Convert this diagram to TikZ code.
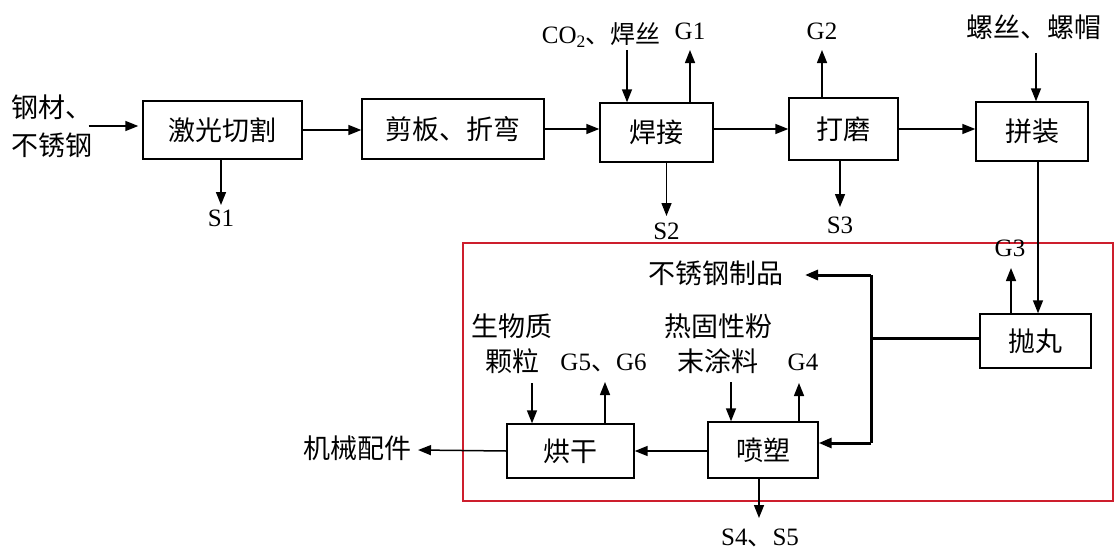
\documentclass[tikz,border=0pt]{standalone}
\usepackage{fontspec}
\setmainfont{Liberation Serif}
\newfontfamily\cj{Noto Sans CJK SC}
\usetikzlibrary{arrows.meta}
\definecolor{redbox}{RGB}{205,30,45}
\tikzset{
  box/.style={draw, line width=1.4pt, minimum width=#1, inner sep=0pt},
  lbl/.style={inner sep=0pt, font=\fontsize{25}{30}\selectfont},
  clbl/.style={inner sep=0pt, font=\cj\fontsize{27}{36}\selectfont},
  arr/.style={line width=1.5pt, -{Triangle[length=13pt,width=10pt]}},
  thk/.style={line width=3pt},
  thkarr/.style={line width=3pt, -{Triangle[length=13pt,width=10pt]}},
}
\begin{document}
\begin{tikzpicture}[x=1pt,y=-1pt]
\useasboundingbox (0,0) rectangle (1115,551);
% red frame
\draw[redbox, line width=2.8pt] (463,243) rectangle (1113,501);
% boxes
\node[box=159pt, minimum height=58pt, clbl] (laser) at (222.5,130) {激光切割};
\node[box=182pt, minimum height=60pt, clbl] (shear) at (453,129) {剪板、折弯};
\node[box=113pt, minimum height=59pt, clbl] (weld) at (656.5,132.5) {焊接};
\node[box=109pt, minimum height=62pt, clbl] (polish) at (843.5,129) {打磨};
\node[box=112pt, minimum height=59pt, clbl] (assem) at (1032,131.5) {拼装};
\node[box=111pt, minimum height=54pt, clbl] (shot) at (1035.5,341) {抛丸};
\node[box=110pt, minimum height=56pt, clbl] (spray) at (763,450) {喷塑};
\node[box=127pt, minimum height=54pt, clbl] (dry) at (570.5,451) {烘干};
% labels
\node[clbl, align=left, font=\cj\fontsize{27}{38}\selectfont] (steel) at (52,126) {钢材、\\不锈钢};
\node[lbl, anchor=east] (co2) at (661,35) {CO\textsubscript{2}{\cj 、焊丝}};
\node[lbl] (g1) at (690,31) {G1};
\node[lbl] (g2) at (822,31) {G2};
\node[clbl] (screw) at (1034,27.5) {螺丝、螺帽};
\node[lbl] (s1) at (221,218) {S1};
\node[lbl] (s2) at (666.5,231) {S2};
\node[lbl] (s3) at (840,225) {S3};
\node[clbl] (prod) at (716,273) {不锈钢制品};
\node[lbl] (g3) at (1010,248) {G3};
\node[clbl, align=center, font=\cj\fontsize{27}{35}\selectfont] (bio) at (512,344) {生物质\\颗粒};
\node[lbl] (g56) at (603.5,363) {G5{\cj 、}G6};
\node[clbl, align=center, font=\cj\fontsize{27}{35}\selectfont] (powder) at (718,344) {热固性粉\\末涂料};
\node[lbl] (g4) at (803,362) {G4};
\node[lbl] (s45) at (760,538) {S4{\cj 、}S5};
\node[clbl] (mech) at (357.5,448) {机械配件};
% arrow end coordinates
\coordinate (co2tip) at (627,50);
\coordinate (g1tip) at (690,50);
\coordinate (g2tip) at (822,50);
\coordinate (screwtip) at (1036,53);
\coordinate (s1tip) at (221,205);
\coordinate (s2tip) at (666.5,216);
\coordinate (s3tip) at (840,207);
\coordinate (g3tip) at (1011,268);
\coordinate (biotip) at (532,383);
\coordinate (g56tip) at (605,382);
\coordinate (powtip) at (731,382);
\coordinate (g4tip) at (799,383);
\coordinate (s45tip) at (759,518);
\coordinate (mechtip) at (418,450);
\coordinate (prodtip) at (805,275);
\coordinate (jt) at (871,275);
\coordinate (jm) at (871,338);
\coordinate (jb) at (871,443);
\coordinate (down) at (1038,0);
% top flow
\draw[arr] ([xshift=-4pt]steel.east) -- ([xshift=-4pt]steel.east -| laser.west);
\draw[arr] (laser.east) -- (laser.east -| shear.west);
\draw[arr] (shear.east) -- (shear.east -| weld.west);
\draw[arr] (weld.east |- polish.east) -- (polish.west);
\draw[arr] (polish.east) -- (polish.east -| assem.west);
% inputs / outputs top
\draw[arr] (co2tip) -- (co2tip |- weld.north);
\draw[arr] (weld.north -| g1tip) -- (g1tip);
\draw[arr] (polish.north -| g2tip) -- (g2tip);
\draw[arr] (screwtip) -- (screwtip |- assem.north);
\draw[arr] (laser.south -| s1tip) -- (s1tip);
\draw[arr] (weld.south -| s2tip) -- (s2tip);
\draw[arr] (polish.south -| s3tip) -- (s3tip);
% assembly to shot blasting
\draw[arr] (assem.south -| down) -- (shot.north -| down);
\draw[arr] (shot.north -| g3tip) -- (g3tip);
% branches
\draw[thk] (shot.west |- jm) -- (jm);
\draw[thk] (jt) -- (jb);
\draw[thkarr] (jt) -- (prodtip);
\draw[thkarr] (jb) -- (jb -| spray.east);
% lower flow
\draw[arr] (spray.west |- dry.west) -- (dry.east);
\draw[arr] (dry.west) -- (mechtip);
\draw[arr] (biotip) -- (biotip |- dry.north);
\draw[arr] (dry.north -| g56tip) -- (g56tip);
\draw[arr] (powtip) -- (powtip |- spray.north);
\draw[arr] (spray.north -| g4tip) -- (g4tip);
\draw[arr] (spray.south -| s45tip) -- (s45tip);
\end{tikzpicture}
\end{document}
